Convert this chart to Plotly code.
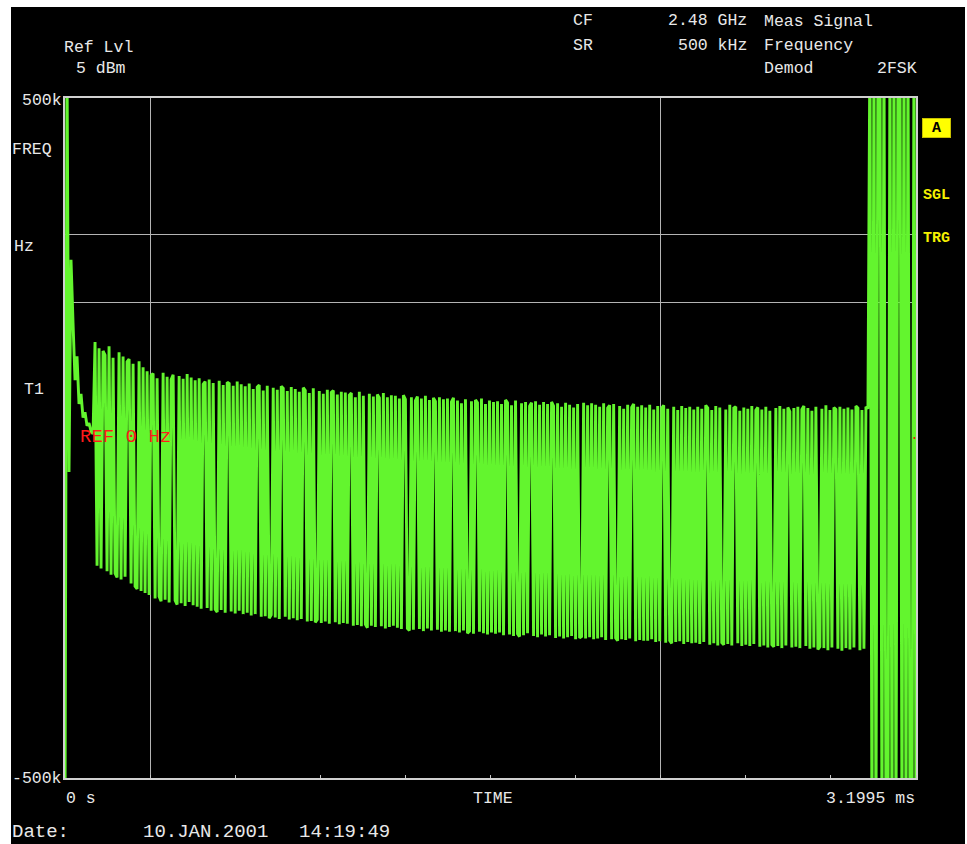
import numpy as np
import plotly.graph_objects as go

# ---------------- data ----------------
SWEEP_TIME_MS = 3.1995          # 0 s ... 3.1995 ms
Y_RANGE_KHZ = [-500, 500]       # -500k ... 500k
GRID_TIMES_MS = [0.31995, 2.23965]
GRID_FREQS_KHZ = [200, 300]
REF_LEVEL_KHZ = 0

# start-up transient (kHz)
startup_khz = [-560, 560, -50, 262, 170, 85, 120, 50, 65, 30, 38, 18, 22, 10, 6]

# demodulated 2FSK burst (kHz)
burst_khz = [
    141, -188, 132, -192, 128, 122, -196, 135, -201, 118, -199, -205, 126, -208, 120, -204, 112, 116, -214, 109, -218, -222, 113, -225, 104,
    -228, 98, -231, 92, 95, -236, 88, -233, -240, 96, -238, 90, -242, 86, 93, -239, -245, 91, -243, 87, -247, 94, -241, 89, -246,
    85, -248, 88, -251, 79, 83, -250, 86, -254, 81, -252, -256, 84, -253, 78, -257, 82, 80, -255, 77, -258, 83, -254, 79, -259,
    76, -257, 80, -261, 72, -259, 75, 78, -263, 70, -262, 77, -265, -260, 74, -264, 71, -266, 76, 73, -263, 69, -267, 75, -265,
    72, -268, 68, -266, 74, 70, -270, 66, -269, 73, -271, -267, 69, -272, 65, -270, 71, -273, 67, 70, -271, 64, -274, 68, -272,
    67, -273, 63, 66, -276, 60, -275, 68, -277, 62, -274, -279, 65, -276, 61, -278, 64, 59, -277, 66, -280, 60, -278, 63, -276,
    62, -279, 58, -281, 63, 57, -280, -283, 60, -282, 55, 61, -281, 58, -284, 62, -280, 56, -283, 59, 54, -282, 60, -285, 57,
    -283, 58, -285, 53, 59, -284, 55, -286, 51, -283, 57, -287, -284, 54, -288, 56, 52, -285, 58, -287, 50, -289, 55, -286, 53,
    -288, 54, -286, 50, -290, 56, 52, -289, 48, -291, 55, -288, -292, 51, -290, 53, -287, 47, 52, -291, 54, -293, 49, -289, 53,
    -292, 50, -290, 53, 47, -294, 51, -292, 46, -295, 52, -293, 49, -291, 45, -296, 50, -294, -292, 52, -295, 48, -293, 51, -296,
    49, -295, 46, -293, 51, -297, 44, 48, -296, 50, -294, -298, 47, -296, 43, -297, 49, -295, 45, 50, -299, 46, -297, 48, -298,
    45, -298, 49, -296, 42, -300, 47, -299, 44, 48, -301, 43, -298, -302, 46, -300, 41, -299, 47, -303, 44, -300, 46, -302, 42,
    -301, 46, -303, 43, -300, 48, 44, -304, 41, -302, 47, -305, 45, -301, -304, 42, -303, 49, -305, 44, 46, -302, 40, -306, 45,
    -304, 43, -306, 47, -303, 41, 45, -307, 42, -305, 46, -308, 40, -304, -307, 44, -306, 47, -309, 43, -305, 45, 39, -308, 44,
    -307, 46, -309, 42, 47, -306, 44, -310, 40, -308, 46, -311, -307, 43, -309, 48, -312, 41, -308, 45, 42, -310, 46, -313, 43,
    -309, 45, -311, 42, -308, 47, 44, -312, 41, -310, 46, 43,
]

# overloaded tail (beyond +/-500 kHz display range)
overload_khz = [600, -600, 600, -600, 600, 600, -600, 600, -600, -600, 600, -600,
                600, -600, 600, 600, -600, 600, -600, 600, -600, -600, 600, -600]

freq_khz = np.array(startup_khz + burst_khz + overload_khz, dtype=float)
time_ms = np.linspace(0, SWEEP_TIME_MS, len(freq_khz))

# ---------------- layout geometry ----------------
W, H = 967, 844
L, R, T, B = 65, 916, 98, 778
MONO = "Liberation Mono, Courier New, monospace"
TXT = "#e8e8e8"
GREEN = "#63f52e"


def px(x):
    return (x - L) / (R - L)


def py(y):
    return (B - y) / (B - T)


fig = go.Figure()

fig.add_trace(go.Scatter(
    x=time_ms, y=freq_khz, mode="lines",
    line=dict(color=GREEN, width=2.9), showlegend=False))
fig.add_trace(go.Scatter(
    x=[SWEEP_TIME_MS * 0.998], y=[REF_LEVEL_KHZ], mode="markers",
    marker=dict(size=2, color="#ff0000"), hoverinfo="skip", showlegend=False))

ann = []


def text(s, x, y, anchor="left", size=16.5, color=TXT, **kw):
    ann.append(dict(text=s, x=px(x), y=py(y), xref="paper", yref="paper",
                    xanchor=anchor, yanchor="middle", showarrow=False,
                    font=dict(family=MONO, size=size, color=color), **kw))


text("Ref Lvl", 62, 47)
text("5 dBm", 74, 69)
text("CF", 571, 21)
text("SR", 571, 45)
text("2.48 GHz", 749, 21, "right")
text("500 kHz", 749, 45, "right")
text("Meas Signal", 762, 22)
text("Frequency", 762, 45)
text("Demod", 762, 69)
text("2FSK", 919, 69, "right")
text("500k", 64, 100, "right")
text("FREQ", 10, 150)
text("Hz", 12, 246)
text("T1", 22, 389)
text("-500k", 64, 778, "right")
text("0 s", 64, 799)
text("TIME", 471, 799)
text("3.1995 ms", 917, 799, "right")
text("Date:", 10, 832, size=19)
text("10.JAN.2001", 141, 832, size=19)
text("14:19:49", 297, 832, size=19)
text("REF 0 Hz", 78, 437, size=19, color="#ff1a1a")
text("<b>SGL</b>", 921, 195, size=15, color="#f5f000")
text("<b>TRG</b>", 921, 238, size=15, color="#f5f000")
ann.append(dict(text="<b>A</b>", x=px(936), y=py(128), xref="paper", yref="paper",
                xanchor="center", yanchor="middle", showarrow=False,
                font=dict(family=MONO, size=15, color="#000000"),
                bgcolor="#ffff00", bordercolor="#c8c000", borderwidth=1,
                width=25, height=16))

fig.update_layout(
    width=W, height=H,
    margin=dict(l=L, r=W - R, t=T, b=H - B, pad=0),
    paper_bgcolor="#ffffff", plot_bgcolor="#000000",
    annotations=ann,
    shapes=[dict(type="rect", xref="paper", yref="paper",
                 x0=px(11), x1=px(965), y0=py(H + 5), y1=py(7),
                 fillcolor="#000000", line=dict(width=0), layer="below")],
    xaxis=dict(range=[0, SWEEP_TIME_MS], tickmode="array", tickvals=GRID_TIMES_MS,
               showticklabels=False, ticks="", showgrid=True, gridcolor="#b4b4b4",
               gridwidth=1, zeroline=False, showline=True, linecolor="#d0d0d0",
               linewidth=1.5, mirror=True, layer="below traces",
               minor=dict(tick0=0, dtick=SWEEP_TIME_MS / 10, ticks="inside",
                          ticklen=3, tickcolor="#c8c8c8", showgrid=False)),
    yaxis=dict(range=Y_RANGE_KHZ, tickmode="array", tickvals=GRID_FREQS_KHZ,
               showticklabels=False, ticks="", showgrid=True, gridcolor="#b4b4b4",
               gridwidth=1, zeroline=False, showline=True, linecolor="#d0d0d0",
               linewidth=1.5, mirror=True, layer="below traces"),
    hovermode=False,
)

fig.write_html("out.html")
